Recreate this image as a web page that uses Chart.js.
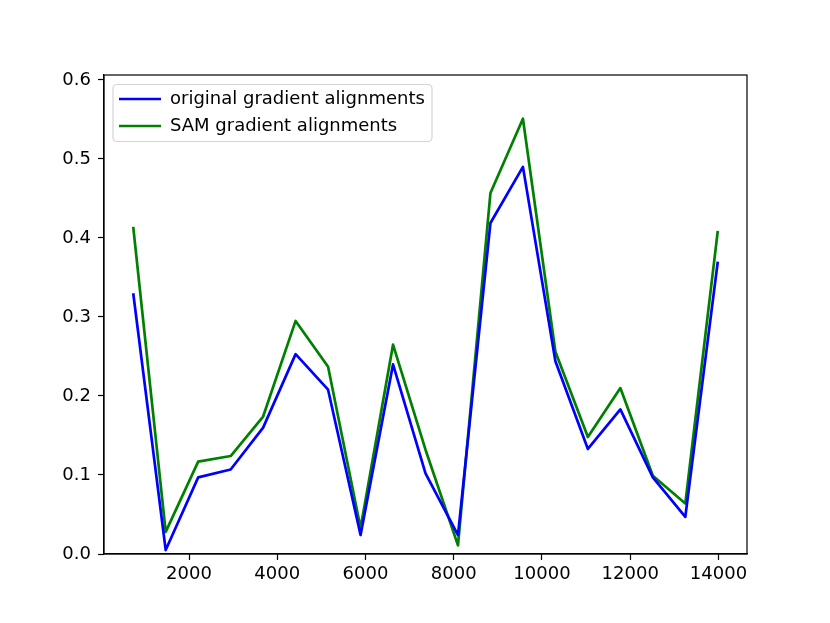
<!DOCTYPE html>
<html>
<head>
<meta charset="utf-8">
<script src="https://cdn.jsdelivr.net/npm/chart.js@4.4.0/dist/chart.umd.min.js"></script>
<style>
  body { margin: 0; background: #fff; }
  #wrap { width: 830px; height: 623px; }
</style>
</head>
<body>
<div id="wrap"><canvas id="alignments" width="830" height="623"></canvas></div>
<script>
// training steps and gradient alignment values
var steps = [736, 1472, 2208, 2944, 3680, 4416, 5152, 5888, 6624, 7360,
             8096, 8832, 9568, 10304, 11040, 11776, 12512, 13248, 13984];
var originalAlign = [0.330, 0.005, 0.097, 0.107, 0.160, 0.253, 0.208, 0.024, 0.240, 0.102,
                     0.024, 0.419, 0.490, 0.244, 0.133, 0.183, 0.097, 0.047, 0.370];
var samAlign = [0.414, 0.028, 0.117, 0.124, 0.174, 0.295, 0.237, 0.033, 0.265, 0.132,
                0.011, 0.457, 0.551, 0.256, 0.148, 0.210, 0.099, 0.064, 0.409];
var xTicks = [2000, 4000, 6000, 8000, 10000, 12000, 14000];
var yTicks = [0.0, 0.1, 0.2, 0.3, 0.4, 0.5, 0.6];

function points(ys) {
    return steps.map(function (s, i) { return { x: s, y: ys[i] }; });
}

Chart.defaults.font.family = "'DejaVu Sans', sans-serif";
Chart.defaults.font.size = 18;
Chart.defaults.color = "#000";

// legend sits inside the axes (top left) with a rounded light frame,
// plus the top/right spines of the axes box
var framePlugin = {
    id: "frame",
    beforeDraw: function (chart) {
        var a = chart.chartArea, lg = chart.legend, ctx = chart.ctx;
        lg.left = a.left + 6;
        lg.top = a.top + 6;
        ctx.save();
        ctx.fillStyle = "#fff";
        ctx.strokeStyle = "#d4d4d4";
        ctx.lineWidth = 1.2;
        ctx.beginPath();
        ctx.roundRect(a.left + 9, a.top + 9.5, 319, 57, 4);
        ctx.fill();
        ctx.stroke();
        ctx.restore();
    },
    afterDatasetsDraw: function (chart) {
        var a = chart.chartArea, ctx = chart.ctx;
        ctx.save();
        ctx.strokeStyle = "#000";
        ctx.lineWidth = 1.2;
        ctx.strokeRect(a.left, a.top, a.right - a.left, a.bottom - a.top);
        ctx.restore();
    }
};

var ctx = document.getElementById("alignments").getContext("2d");
var chart = new Chart(ctx, {
    type: "line",
    data: {
        datasets: [{
            label: "original gradient alignments",
            data: points(originalAlign),
            borderColor: "#0000ff",
            backgroundColor: "#0000ff",
            borderWidth: 2.7,
            pointRadius: 0,
            pointStyle: "line",
            tension: 0,
            borderJoinStyle: "round"
        },
        {
            label: "SAM gradient alignments",
            data: points(samAlign),
            borderColor: "#008000",
            backgroundColor: "#008000",
            borderWidth: 2.7,
            pointRadius: 0,
            pointStyle: "line",
            tension: 0,
            borderJoinStyle: "round"
        }]
    },
    options: {
        responsive: false,
        animation: false,
        layout: { padding: { left: 0, right: 83, top: 75, bottom: 35 } },
        plugins: {
            tooltip: { enabled: false },
            legend: {
                position: "chartArea",
                align: "start",
                labels: {
                    usePointStyle: true,
                    pointStyleWidth: 42,
                    padding: 9,
                    font: { size: 18 },
                    color: "#000"
                }
            }
        },
        scales: {
            x: {
                type: "linear",
                min: 73.6,
                max: 14646,
                afterBuildTicks: function (s) { s.ticks = xTicks.map(function (v) { return { value: v }; }); },
                afterFit: function (s) { s.height = 34; },
                grid: { drawOnChartArea: false, drawTicks: true, tickLength: 6, tickColor: "#000", tickWidth: 1.2 },
                border: { display: true, color: "#000", width: 1.2 },
                ticks: { padding: 4, maxRotation: 0, autoSkip: false, callback: function (v) { return String(v); } }
            },
            y: {
                min: 0,
                max: 0.6063,
                afterBuildTicks: function (s) { s.ticks = yTicks.map(function (v) { return { value: v }; }); },
                afterFit: function (s) { s.width = 104; },
                grid: { drawOnChartArea: false, drawTicks: true, tickLength: 6, tickColor: "#000", tickWidth: 1.2 },
                border: { display: true, color: "#000", width: 1.2 },
                ticks: { padding: 7, autoSkip: false, callback: function (v) { return v.toFixed(1); } }
            }
        }
    },
    plugins: [framePlugin]
});
</script>
</body>
</html>
